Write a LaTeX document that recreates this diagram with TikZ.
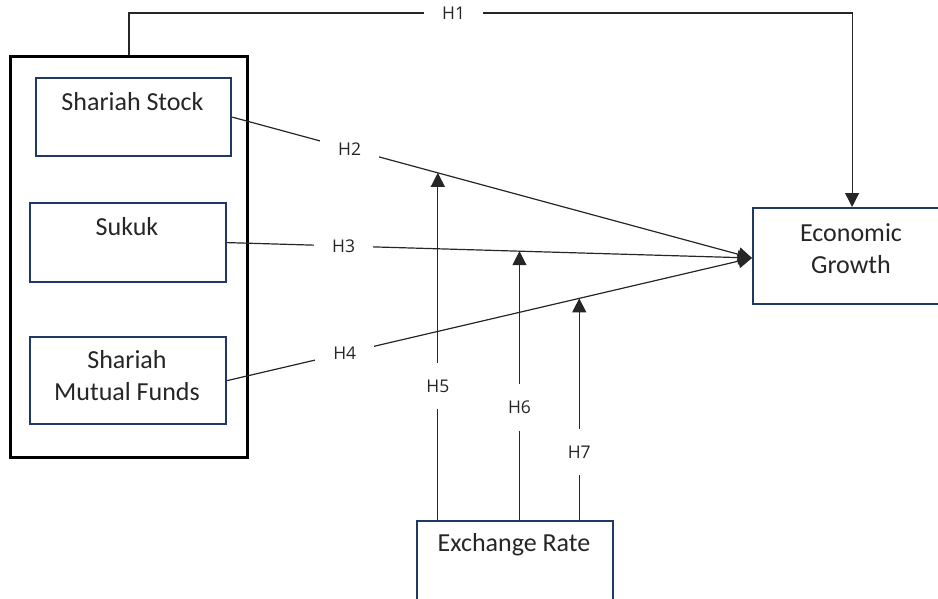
\documentclass[tikz,border=0pt]{standalone}
\usepackage{fontspec}
\setmainfont{Carlito}
\newfontfamily\labfont{Open Sans}
\usetikzlibrary{arrows.meta,calc}
\definecolor{navy}{RGB}{32,56,100}
\begin{document}
\begin{tikzpicture}[x=1pt,y=-1pt,
  box/.style={draw=navy, line width=2.2pt, fill=white, inner sep=0pt, anchor=north west},
  outerbox/.style={draw=black, line width=3pt, inner sep=0pt, anchor=north west},
  txt/.style={font=\fontsize{26}{32}\selectfont, align=center, inner sep=0pt, text=black!85},
  lab/.style={font=\labfont\fontsize{17.5}{20}\selectfont, fill=white, inner xsep=18pt, inner ysep=17pt, text=black!85},
  conn/.style={line width=1.2pt, draw=black!85},
  arr/.style={conn, -{Triangle[length=14pt,width=14pt]}}]
\useasboundingbox (0,0) rectangle (938,598);
\clip (0,0) rectangle (938,598);
% boxes
\node[outerbox, minimum width=237pt, minimum height=401pt] (outer) at (9,55) {};
\node[box, minimum width=195pt, minimum height=78pt] (ss) at (35,77) {};
\node[box, minimum width=196pt, minimum height=79pt] (sk) at (29,202) {};
\node[box, minimum width=196pt, minimum height=87pt] (mf) at (29,336) {};
\node[box, minimum width=198pt, minimum height=96pt] (econ) at (752,207) {};
\node[box, minimum width=196pt, minimum height=100pt] (ex) at (416,520) {};
% texts
\node[txt] (ssT) at (132.5,102) {Shariah Stock};
\node[txt] (skT) at (127,227) {Sukuk};
\node[txt] (mfT) at (127,376) {Shariah\\Mutual Funds};
\node[txt] (ecT) at (851,249) {Economic\\Growth};
\node[txt] (exT) at (514,545) {Exchange Rate};
% target coordinates
\coordinate (ein) at (752,258);
\coordinate (t5) at ($(ss.east)!0.3956!(ein)$);
\coordinate (t6) at ($(sk.east)!0.5569!(ein)$);
\coordinate (t7) at ($(mf.east)!0.6708!(ein)$);
% H1
\draw[arr] (outer.north) -- ++(0,-42) -| node[lab, pos=0.2245] {H1} (econ.north);
% H2-H4
\draw[arr] (ss.east) -- node[lab, pos=0.226] {H2} (ein);
\draw[arr] (sk.east) -- node[lab, pos=0.222] {H3} (ein);
\draw[arr] (mf.east) -- node[lab, pos=0.224] {H4} (ein);
% H5-H7
\draw[arr] (t5 |- ex.north) -- node[lab, pos=0.386] {H5} (t5);
\draw[arr] (t6 |- ex.north) -- node[lab, pos=0.42] {H6} (t6);
\draw[arr] (t7 |- ex.north) -- node[lab, pos=0.306] {H7} (t7);
\end{tikzpicture}
\end{document}
